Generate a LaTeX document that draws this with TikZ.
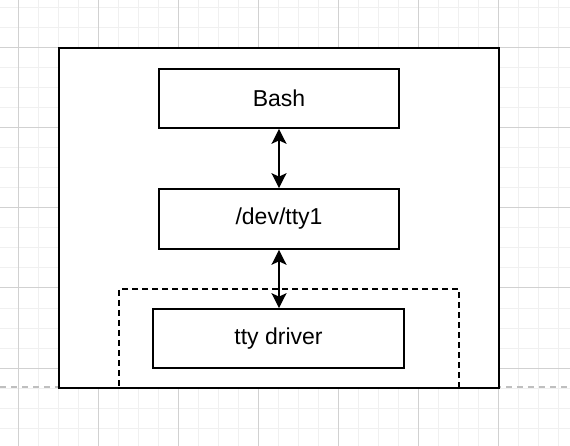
\documentclass[tikz,border=0pt]{standalone}
\usepackage{fontspec}
\setmainfont{Liberation Sans}
\usetikzlibrary{arrows.meta,positioning}

\begin{document}
\begin{tikzpicture}[
    x=1pt, y=-1pt,
    >={Stealth[length=15pt, width=15pt, inset=3.5pt]},
    box/.style={draw, line width=1.7pt, fill=white, minimum height=59pt, inner sep=0pt, font=\fontsize{23}{27}\selectfont},
    frame/.style={draw, line width=1.7pt, fill=white, inner sep=0pt},
    group/.style={draw, line width=1.7pt, dash pattern=on 6pt off 4pt, inner sep=0pt},
    link/.style={<->, line width=1.7pt},
    minorgrid/.style={draw=black!6, line width=1pt},
    majorgrid/.style={draw=black!18, line width=1pt}
]
    \useasboundingbox (0,0) rectangle (570,446);
    \fill[white] (0,0) rectangle (570,446);

    % grid
    \foreach \x in {18,38,...,558} \draw[minorgrid] (\x,0) -- (\x,446);
    \foreach \y in {8,28,...,428} \draw[minorgrid] (0,\y) -- (570,\y);
    \foreach \x in {18,98,...,498} \draw[majorgrid] (\x,0) -- (\x,446);
    \foreach \y in {48,128,...,368} \draw[majorgrid] (0,\y) -- (570,\y);

    % page break line
    \draw[black!25, line width=2pt, dash pattern=on 6pt off 5pt] (0,386.5) -- (570,386.5);

    % outer frame and driver group
    \node[frame, minimum width=440pt, minimum height=340pt] (outer) at (279,218) {};
    \node[group, minimum width=340pt, minimum height=99pt] (drvgroup) at (289,338.5) {};

    % boxes
    \node[box, minimum width=240pt] (bash) at (279,98.5) {Bash};
    \node[box, minimum width=240pt, minimum height=60pt] (tty) at (279,219) {/dev/tty1};
    \node[box, minimum width=251pt] (driver) at (278.5,338.5) {tty driver};

    % arrows
    \draw[link] (bash.south) -- (tty.north);
    \draw[link] (tty.south) -- (tty.south |- driver.north);

\end{tikzpicture}
\end{document}
